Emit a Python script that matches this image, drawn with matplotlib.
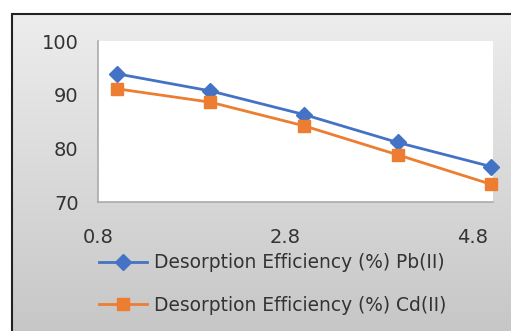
import numpy as np
import matplotlib.pyplot as plt
from matplotlib.patches import Rectangle

# data
cycles = [1, 2, 3, 4, 5]
pb_eff = [93.9, 90.7, 86.3, 81.1, 76.6]
cd_eff = [91.1, 88.6, 84.2, 78.8, 73.3]

x_ticks = [0.8, 2.8, 4.8]
y_ticks = [70, 80, 90, 100]

BLUE = "#4472C4"
ORANGE = "#ED7D31"
W, H = 511, 331

plt.rcParams["font.family"] = ["DejaVu Sans"]

fig = plt.figure(figsize=(W / 100, H / 100), dpi=100)
fig.patch.set_facecolor("white")

# gray gradient chart area, cropped on the right and bottom
bg = fig.add_axes([12 / W, 0, 1 - 12 / W, 1 - 14 / H], zorder=0)
grad = np.linspace(0.93, 0.78, 256).reshape(-1, 1)
bg.imshow(np.dstack([grad, grad, grad]), aspect="auto", extent=[0, 1, 0, 1])
bg.set_xlim(0, 1)
bg.set_ylim(0, 1)
bg.axis("off")
bg.add_patch(Rectangle((0, -0.05), 1.1, 1.05, transform=bg.transAxes,
                       fill=False, edgecolor="#222222", linewidth=1.5, clip_on=False))

ax = fig.add_axes([98 / W, 1 - 202 / H, (493 - 98) / W, (202 - 41) / H], zorder=1)
ax.set_facecolor("white")

ax.plot(cycles, pb_eff, color=BLUE, lw=2.0, marker="D", ms=8,
        label="Desorption Efficiency (%) Pb(II)", clip_on=False)
ax.plot(cycles, cd_eff, color=ORANGE, lw=2.0, marker="s", ms=9,
        label="Desorption Efficiency (%) Cd(II)", clip_on=False)

ax.set_xlim(0.8, 5.02)
ax.set_ylim(70, 100)
ax.set_xticks(x_ticks)
ax.set_xticklabels([f"{t:.1f}" for t in x_ticks])
ax.set_yticks(y_ticks)
ax.tick_params(length=0, labelsize=14, colors="#333333")
ax.tick_params(axis="y", pad=14)
ax.tick_params(axis="x", pad=19)

for s in ["top", "right"]:
    ax.spines[s].set_visible(False)
for s in ["left", "bottom"]:
    ax.spines[s].set_color("#aaaaaa")
    ax.spines[s].set_linewidth(1.2)

handles, labels = ax.get_legend_handles_labels()
fig.legend(handles, labels, loc="center left", bbox_to_anchor=(99 / W, 1 - 284 / H),
           frameon=False, fontsize=13.4, handlelength=2.6, handletextpad=0.35,
           labelspacing=1.25, borderpad=0, borderaxespad=0, labelcolor="#333333")

fig.savefig("out.png", dpi=100, facecolor=fig.get_facecolor())
